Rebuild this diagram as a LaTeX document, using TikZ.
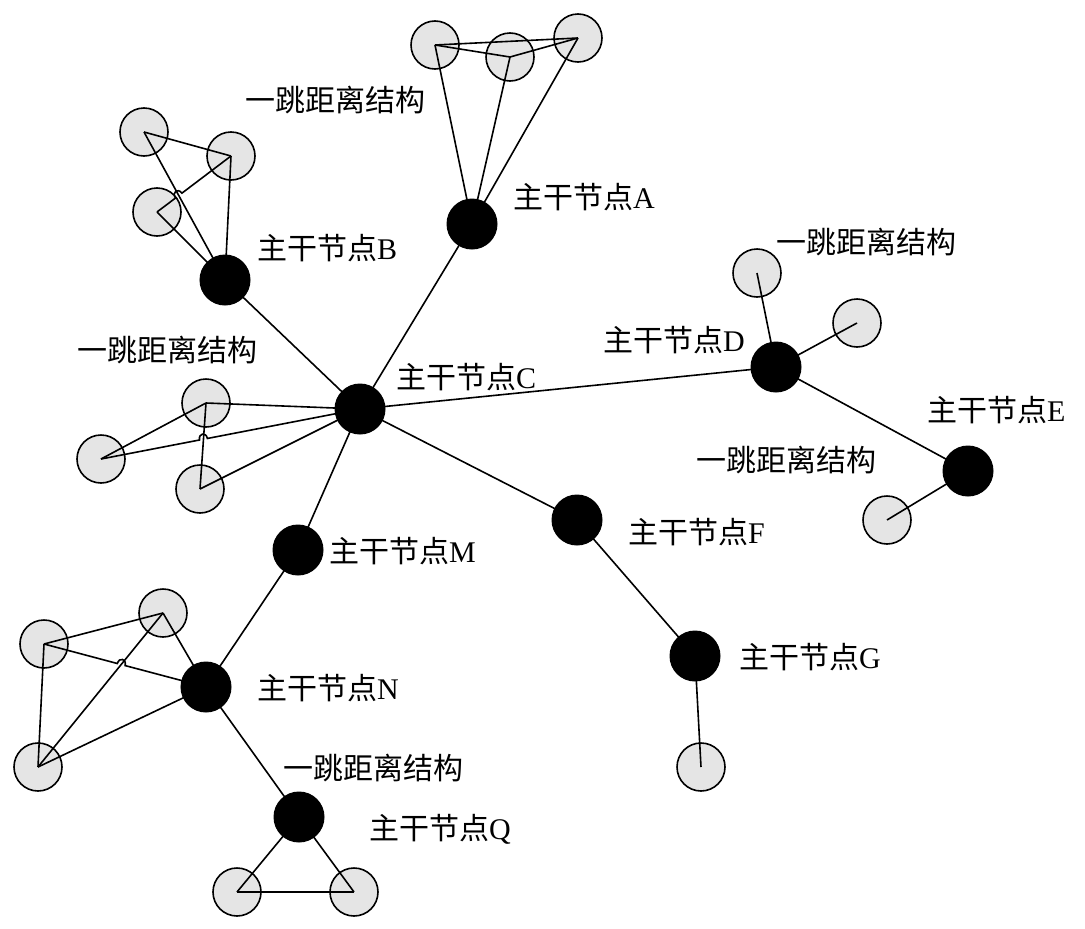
\documentclass[tikz,border=0pt]{standalone}
\usepackage{fontspec}
\setmainfont{Liberation Serif}
\newfontfamily\cjk{Noto Sans CJK SC}
\usetikzlibrary{calc}
\pgfdeclarelayer{back}
\pgfdeclarelayer{mid}
\pgfsetlayers{back,mid,main}
\newcommand\zg[1]{{\cjk 主干节点}#1}
\newcommand\yt{{\cjk 一跳距离结构}}
\newcommand\hopline[4]{%
  \path (intersection of #1--#2 and #3--#4) coordinate (hx);
  \draw[edge] (#1) -- ($(hx)!4pt!(#1)$)
    .. controls ($(hx)!4pt!(#1)!7pt!90:(hx)$) and ($(hx)!4pt!(#2)!7pt!-90:(hx)$) ..
    ($(hx)!4pt!(#2)$) -- (#2);
}
\tikzset{
  graynode/.style={circle,draw=black,line width=1.6pt,fill=gray!20,minimum size=48pt,inner sep=0pt},
  backbone/.style={circle,draw=black,fill=black,line width=1pt,minimum size=50pt,inner sep=0pt},
  edge/.style={line width=1.6pt,line join=miter},
  lbl/.style={anchor=west,inner sep=0pt,font=\fontsize{30}{36}\selectfont}
}
\begin{document}
\begin{tikzpicture}[x=1pt,y=-1pt]
\useasboundingbox (0,0) rectangle (1085,929);
% gray (one-hop) nodes
\begin{pgfonlayer}{back}
\fill[white] (0,0) rectangle (1085,929);
\node[graynode] (a1) at (435,45) {};
\node[graynode] (a2) at (510,57) {};
\node[graynode] (a3) at (578,38) {};
\node[graynode] (b1) at (144,132) {};
\node[graynode] (b2) at (231,156) {};
\node[graynode] (b3) at (157,212) {};
\node[graynode] (c1) at (206,403) {};
\node[graynode] (c2) at (101,459) {};
\node[graynode] (c3) at (200,489) {};
\node[graynode] (n1) at (44,644) {};
\node[graynode] (n2) at (163,613) {};
\node[graynode] (n3) at (38,767) {};
\node[graynode] (q1) at (237,892) {};
\node[graynode] (q2) at (354,892) {};
\node[graynode] (d1) at (757,273) {};
\node[graynode] (d2) at (857,323) {};
\node[graynode] (e1) at (887,520) {};
\node[graynode] (g1) at (701,767) {};
\end{pgfonlayer}
% backbone nodes
\node[backbone] (A) at (472,224) {};
\node[backbone] (B) at (225,280) {};
\node[backbone] (C) at (360,409) {};
\node[backbone] (D) at (776,367) {};
\node[backbone] (E) at (968,471) {};
\node[backbone] (F) at (577,520) {};
\node[backbone] (G) at (695,656) {};
\node[backbone] (M) at (298,550) {};
\node[backbone] (N) at (206,687) {};
\node[backbone] (Q) at (299,817) {};
% edges
\begin{pgfonlayer}{mid}
\draw[edge] (A.center) -- (C.center);
\draw[edge] (B.center) -- (C.center);
\draw[edge] (C.center) -- (D.center);
\draw[edge] (D.center) -- (E.center);
\draw[edge] (C.center) -- (F.center);
\draw[edge] (F.center) -- (G.center);
\draw[edge] (C.center) -- (M.center);
\draw[edge] (M.center) -- (N.center);
\draw[edge] (N.center) -- (Q.center);
% A cluster
\draw[edge] (a1.center) -- (a3.center);
\draw[edge] (a1.center) -- (a2.center) -- (a3.center);
\draw[edge] (a1.center) -- (A.center);
\draw[edge] (a2.center) -- (A.center);
\draw[edge] (a3.center) -- (A.center);
% B cluster
\draw[edge] (b1.center) -- (b2.center);
\draw[edge] (b1.center) -- (B.center);
\draw[edge] (b2.center) -- (B.center);
\draw[edge] (b3.center) -- (B.center);
\hopline{b3.center}{b2.center}{b1.center}{B.center}
% C cluster
\draw[edge] (c1.center) -- (c2.center);
\draw[edge] (c1.center) -- (c3.center);
\draw[edge] (c1.center) -- (C.center);
\draw[edge] (c3.center) -- (C.center);
\hopline{c2.center}{C.center}{c1.center}{c3.center}
% N cluster
\draw[edge] (n1.center) -- (n2.center);
\draw[edge] (n1.center) -- (n3.center);
\draw[edge] (n3.center) -- (n2.center);
\draw[edge] (n2.center) -- (N.center);
\draw[edge] (n3.center) -- (N.center);
\hopline{n1.center}{N.center}{n3.center}{n2.center}
% Q cluster
\draw[edge] (q1.center) -- (q2.center);
\draw[edge] (q1.center) -- (Q.center);
\draw[edge] (q2.center) -- (Q.center);
% single ones
\draw[edge] (d1.center) -- (D.center);
\draw[edge] (d2.center) -- (D.center);
\draw[edge] (e1.center) -- (E.center);
\draw[edge] (g1.center) -- (G.center);
\end{pgfonlayer}
% labels
\node[lbl] (t1) at (245,100) {\yt};
\node[lbl] (lA) at (513,197) {\zg{A}};
\node[lbl] (lB) at (257,248) {\zg{B}};
\node[lbl] (t2) at (77,350) {\yt};
\node[lbl] (lC) at (396,377) {\zg{C}};
\node[lbl] (lD) at (603,340) {\zg{D}};
\node[lbl] (t3) at (776,242) {\yt};
\node[lbl] (lE) at (927,410) {\zg{E}};
\node[lbl] (t4) at (696,460) {\yt};
\node[lbl] (lF) at (628,532) {\zg{F}};
\node[lbl] (lM) at (329,551) {\zg{M}};
\node[lbl] (lG) at (739,657) {\zg{G}};
\node[lbl] (lN) at (257,688) {\zg{N}};
\node[lbl] (t5) at (283,768) {\yt};
\node[lbl] (lQ) at (369,829) {\zg{Q}};
\end{tikzpicture}
\end{document}
